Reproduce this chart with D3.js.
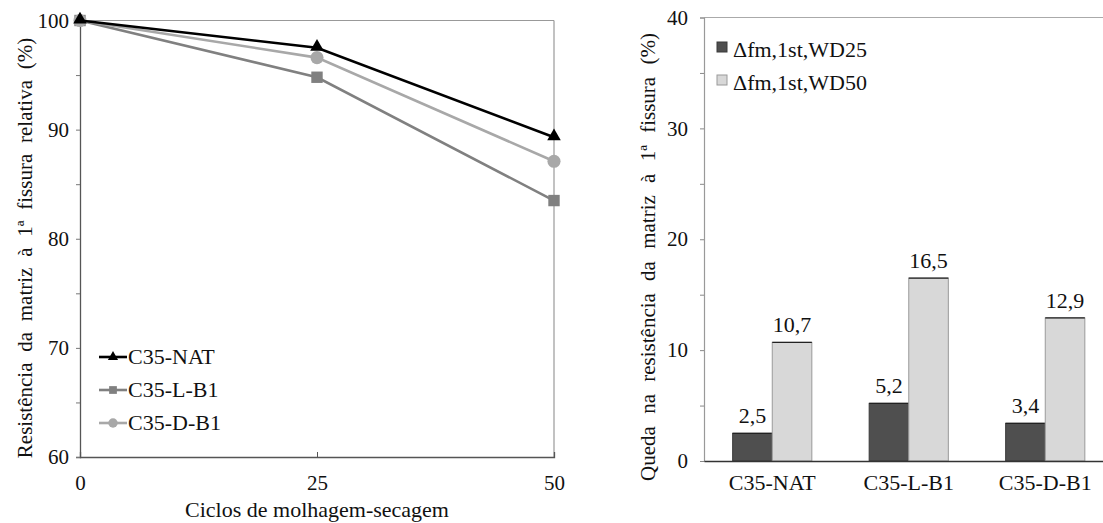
<!DOCTYPE html>
<html><head><meta charset="utf-8">
<script src="https://cdn.jsdelivr.net/npm/d3@7"></script>
<style>
body{margin:0;background:#fff;}
</style></head>
<body><svg id="c" width="1103" height="523"></svg>
<script>
// ---- Data: line chart ----
const cycles = [0, 25, 50];
const lineSeries = ["C35-NAT", "C35-L-B1", "C35-D-B1"];
const natValues = [100, 97.5, 89.3];
const lb1Values = [100, 94.8, 83.5];
const db1Values = [100, 96.6, 87.1];
const leftYTicks = [60, 70, 80, 90, 100];
const leftXTicks = [0, 25, 50];
// ---- Data: bar chart ----
const categories = ["C35-NAT", "C35-L-B1", "C35-D-B1"];
const barSeries = ["\u0394fm,1st,WD25", "\u0394fm,1st,WD50"];
const wd25Values = [2.5, 5.2, 3.4];
const wd50Values = [10.7, 16.5, 12.9];
const rightYTicks = [0, 10, 20, 30, 40];

const FONT = "'Liberation Serif', 'Times New Roman', serif";
const svg = d3.select("#c").attr("font-family", FONT);
const fmt = d => d.toFixed(1).replace(".", ",");
const serif = sel => sel.style("font-family", FONT).attr("fill", "#111");

// ===== Left line chart =====
{
  const L = 80, R = 554, T = 20.5, B = 457;
  const x = d3.scaleLinear().domain([0, 50]).range([L, R]);
  const y = d3.scaleLinear().domain([60, 100]).range([B, T]);
  const g = svg.append("g");
  g.append("line").attr("x1", L).attr("x2", R).attr("y1", T).attr("y2", T).attr("stroke", "#999").attr("stroke-width", 1.2);
  g.append("line").attr("x1", R).attr("x2", R).attr("y1", T).attr("y2", B).attr("stroke", "#999").attr("stroke-width", 1.2);
  const ya = g.append("g").attr("transform", `translate(${L},0)`)
    .call(d3.axisLeft(y).tickValues(d3.range(60, 101, 5)).tickSize(4).tickPadding(7)
      .tickFormat(d => leftYTicks.includes(d) ? d : ""));
  ya.attr("font-family", null);
  ya.select(".domain").attr("stroke", "#555").attr("stroke-width", 1.3);
  ya.selectAll(".tick line").attr("stroke", "#777");
  ya.selectAll("text").style("font-size", "21px").call(serif);
  const xa = g.append("g").attr("transform", `translate(0,${B})`)
    .call(d3.axisBottom(x).tickValues(leftXTicks).tickSize(-5).tickPadding(18).tickFormat(d => d));
  xa.attr("font-family", null);
  xa.select(".domain").attr("stroke", "#555").attr("stroke-width", 1.3);
  xa.selectAll(".tick line").attr("stroke", "#555");
  xa.selectAll("text").style("font-size", "21px").call(serif);
  g.append("text").attr("x", 317).attr("y", 517).attr("text-anchor", "middle")
    .style("font-size", "22px").call(serif).text("Ciclos de molhagem-secagem");
  g.append("text").attr("transform", "translate(32,248) rotate(-90)").attr("text-anchor", "middle")
    .style("font-size", "21px").style("word-spacing", "5.5px").call(serif)
    .text("Resistência da matriz à 1ª fissura relativa (%)");

  const series = [
    {name: lineSeries[0], vals: natValues, color: "#000", sym: d3.symbolTriangle, size: 80, lsize: 45},
    {name: lineSeries[1], vals: lb1Values, color: "#808080", sym: d3.symbolSquare, size: 130, lsize: 60},
    {name: lineSeries[2], vals: db1Values, color: "#a8a8a8", sym: d3.symbolCircle, size: 135, lsize: 70}
  ];
  const line = d3.line().x((d, i) => x(cycles[i])).y(d => y(d));
  [1, 2, 0].forEach(k => {
    const s = series[k];
    g.append("path").datum(s.vals).attr("d", line).attr("fill", "none")
      .attr("stroke", s.color).attr("stroke-width", 2.6);
    g.selectAll(null).data(s.vals).join("path")
      .attr("transform", (d, i) => `translate(${x(cycles[i])},${y(d) + (s.sym === d3.symbolTriangle ? -1 : 0)})`)
      .attr("d", d3.symbol(s.sym, s.size)).attr("fill", s.color);
  });
  series.forEach((s, i) => {
    const yy = 357 + i * 33;
    g.append("line").attr("x1", 99).attr("x2", 127).attr("y1", yy).attr("y2", yy)
      .attr("stroke", s.color).attr("stroke-width", 2.6);
    g.append("path").attr("transform", `translate(113,${yy})`).attr("d", d3.symbol(s.sym, s.lsize)).attr("fill", s.color);
    g.append("text").attr("x", 128).attr("y", yy + 7).style("font-size", "22px").call(serif).text(s.name);
  });
}

// ===== Right bar chart =====
{
  const L = 704, R = 1113.5, T = 17.5, B = 461;
  const x0 = d3.scaleBand().domain(categories).range([L, R]).paddingInner(0.42).paddingOuter(0.21);
  const x1 = d3.scaleBand().domain(barSeries).range([0, x0.bandwidth()]);
  const y = d3.scaleLinear().domain([0, 40]).range([B, T]);
  const g = svg.append("g");
  g.append("line").attr("x1", L).attr("x2", 1103).attr("y1", T).attr("y2", T).attr("stroke", "#aaa").attr("stroke-width", 1.2);
  const ya = g.append("g").attr("transform", `translate(${L},0)`)
    .call(d3.axisLeft(y).tickValues(d3.range(0, 41, 5)).tickSize(4).tickPadding(12)
      .tickFormat(d => rightYTicks.includes(d) ? d : ""));
  ya.attr("font-family", null);
  ya.select(".domain").attr("stroke", "#999").attr("stroke-width", 1.2);
  ya.selectAll(".tick line").attr("stroke", "#888");
  ya.selectAll("text").style("font-size", "21px").call(serif);

  const colors = ["#4f4f4f", "#d8d8d8"];
  const strokes = ["#3a3a3a", "#9a9a9a"];
  const valsBy = [wd25Values, wd50Values];
  categories.forEach((c, ci) => {
    barSeries.forEach((s, si) => {
      const v = valsBy[si][ci];
      const bx = x0(c) + x1(s), bw = x1.bandwidth();
      g.append("rect").attr("x", bx).attr("y", y(v)).attr("width", bw).attr("height", B - y(v))
        .attr("fill", colors[si]).attr("stroke", strokes[si]).attr("stroke-width", 1);
      g.append("line").attr("x1", bx).attr("x2", bx + bw).attr("y1", y(v)).attr("y2", y(v))
        .attr("stroke", "#222").attr("stroke-width", 1.3);
      g.append("text").attr("x", bx + bw / 2).attr("y", y(v) - 10).attr("text-anchor", "middle")
        .style("font-size", "22px").call(serif).text(fmt(v));
    });
  });
  const xa = g.append("g").attr("transform", `translate(0,${B})`)
    .call(d3.axisBottom(x0).tickSize(0).tickPadding(13));
  xa.attr("font-family", null);
  xa.select(".domain").attr("stroke", "#333").attr("stroke-width", 1.4);
  xa.selectAll("text").style("font-size", "22px").call(serif);

  g.append("text").attr("transform", "translate(655,257) rotate(-90)").attr("text-anchor", "middle")
    .style("font-size", "21px").style("word-spacing", "7px").call(serif)
    .text("Queda na resistência da matriz à 1ª fissura (%)");

  barSeries.forEach((s, i) => {
    const yy = 47 + i * 33;
    g.append("rect").attr("x", 717).attr("y", yy - 5).attr("width", 10).attr("height", 10)
      .attr("fill", colors[i]).attr("stroke", strokes[i]);
    g.append("text").attr("x", 733).attr("y", yy + 10).style("font-size", "22px").call(serif).text(s);
  });
}
</script></body></html>
